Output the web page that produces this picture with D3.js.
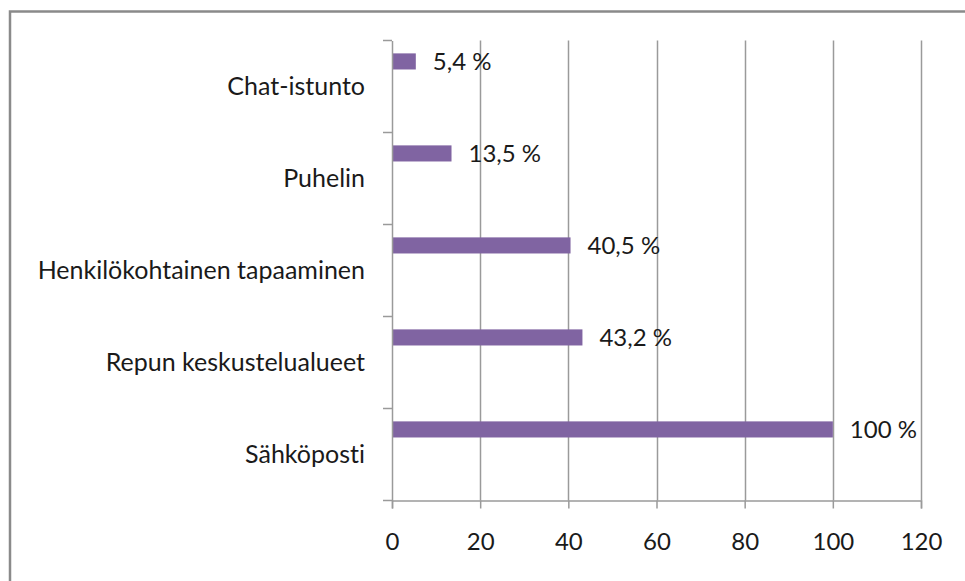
<!DOCTYPE html>
<html>
<head>
<meta charset="utf-8">
<script src="https://cdn.jsdelivr.net/npm/d3@7"></script>
<style>
  body { margin: 0; background: #fff; }
  text { font-family: Lato, "Open Sans", sans-serif; fill: #1a1a1a; font-variant-ligatures: none; }
</style>
</head>
<body>
  <script>
    const categories = ["Chat-istunto", "Puhelin", "Henkilökohtainen tapaaminen", "Repun keskustelualueet", "Sähköposti"];
    const values = [5.4, 13.5, 40.5, 43.2, 100];
    const valueLabels = ["5,4 %", "13,5 %", "40,5 %", "43,2 %", "100 %"];
    const xTicks = [0, 20, 40, 60, 80, 100, 120];

    const w = 965;
    const h = 581;
    const plotLeft = 392, plotRight = 921, plotTop = 40.5, plotBottom = 500.5;
    const fontSize = 24;

    const svg = d3.select("body")
                  .append("svg")
                  .attr("width", w)
                  .attr("height", h);

    // outer frame
    svg.append("rect")
       .attr("x", 10).attr("y", 11.5)
       .attr("width", 1000).attr("height", 1000)
       .attr("fill", "none")
       .attr("stroke", "#8a8a8a")
       .attr("stroke-width", 2.5);

    const xScale = d3.scaleLinear()
                     .domain([0, 120])
                     .range([plotLeft, plotRight]);

    const yScale = d3.scaleBand()
                     .domain(categories)
                     .range([plotTop, plotBottom]);

    const bw = yScale.bandwidth();

    // gridlines
    svg.selectAll("line.grid")
       .data(xTicks.slice(1))
       .enter()
       .append("line")
       .attr("class", "grid")
       .attr("x1", d => Math.round(xScale(d)) + 0.5)
       .attr("x2", d => Math.round(xScale(d)) + 0.5)
       .attr("y1", plotTop)
       .attr("y2", plotBottom)
       .attr("stroke", "#9a9a9a")
       .attr("stroke-width", 1.5);

    // bars
    svg.selectAll("rect.bar")
       .data(values)
       .enter()
       .append("rect")
       .attr("class", "bar")
       .attr("x", xScale(0))
       .attr("y", (d, i) => yScale(categories[i]) + bw * 0.14)
       .attr("width", d => xScale(d) - xScale(0))
       .attr("height", bw * 0.175)
       .attr("fill", "#8064a2");

    // x axis
    const xAxis = svg.append("g")
       .attr("transform", `translate(0,${plotBottom})`)
       .call(d3.axisBottom(xScale).tickValues(xTicks).tickSize(8).tickPadding(24));
    xAxis.select(".domain").attr("stroke", "#9a9a9a").attr("stroke-width", 1.5);
    xAxis.selectAll(".tick line").attr("stroke", "#9a9a9a").attr("stroke-width", 1.5);
    xAxis.selectAll(".tick text")
         .attr("font-size", fontSize)
         .style("font-family", "Lato, sans-serif")
         .attr("fill", "#1a1a1a");

    // y axis
    const yAxis = svg.append("g")
       .attr("transform", `translate(${plotLeft},0)`)
       .call(d3.axisLeft(yScale).tickSize(0).tickPadding(27));
    yAxis.select(".domain").attr("stroke", "#9a9a9a").attr("stroke-width", 1.5);
    yAxis.selectAll(".tick text")
         .attr("font-size", 25)
         .style("font-family", "Lato, sans-serif")
         .attr("fill", "#1a1a1a");

    // band boundary ticks on y axis
    const bounds = categories.map(c => yScale(c)).concat([plotBottom]);
    svg.selectAll("line.ytick")
       .data(bounds)
       .enter()
       .append("line")
       .attr("class", "ytick")
       .attr("x1", plotLeft - 9)
       .attr("x2", plotLeft)
       .attr("y1", d => d)
       .attr("y2", d => d)
       .attr("stroke", "#9a9a9a")
       .attr("stroke-width", 1.5);

    // data labels
    svg.selectAll("text.val")
       .data(values)
       .enter()
       .append("text")
       .attr("class", "val")
       .attr("x", d => xScale(d) + 17)
       .attr("y", (d, i) => yScale(categories[i]) + bw * 0.14 + bw * 0.0875)
       .attr("dy", "0.35em")
       .attr("font-size", fontSize)
       .text((d, i) => valueLabels[i]);
  </script>
</body>
</html>
